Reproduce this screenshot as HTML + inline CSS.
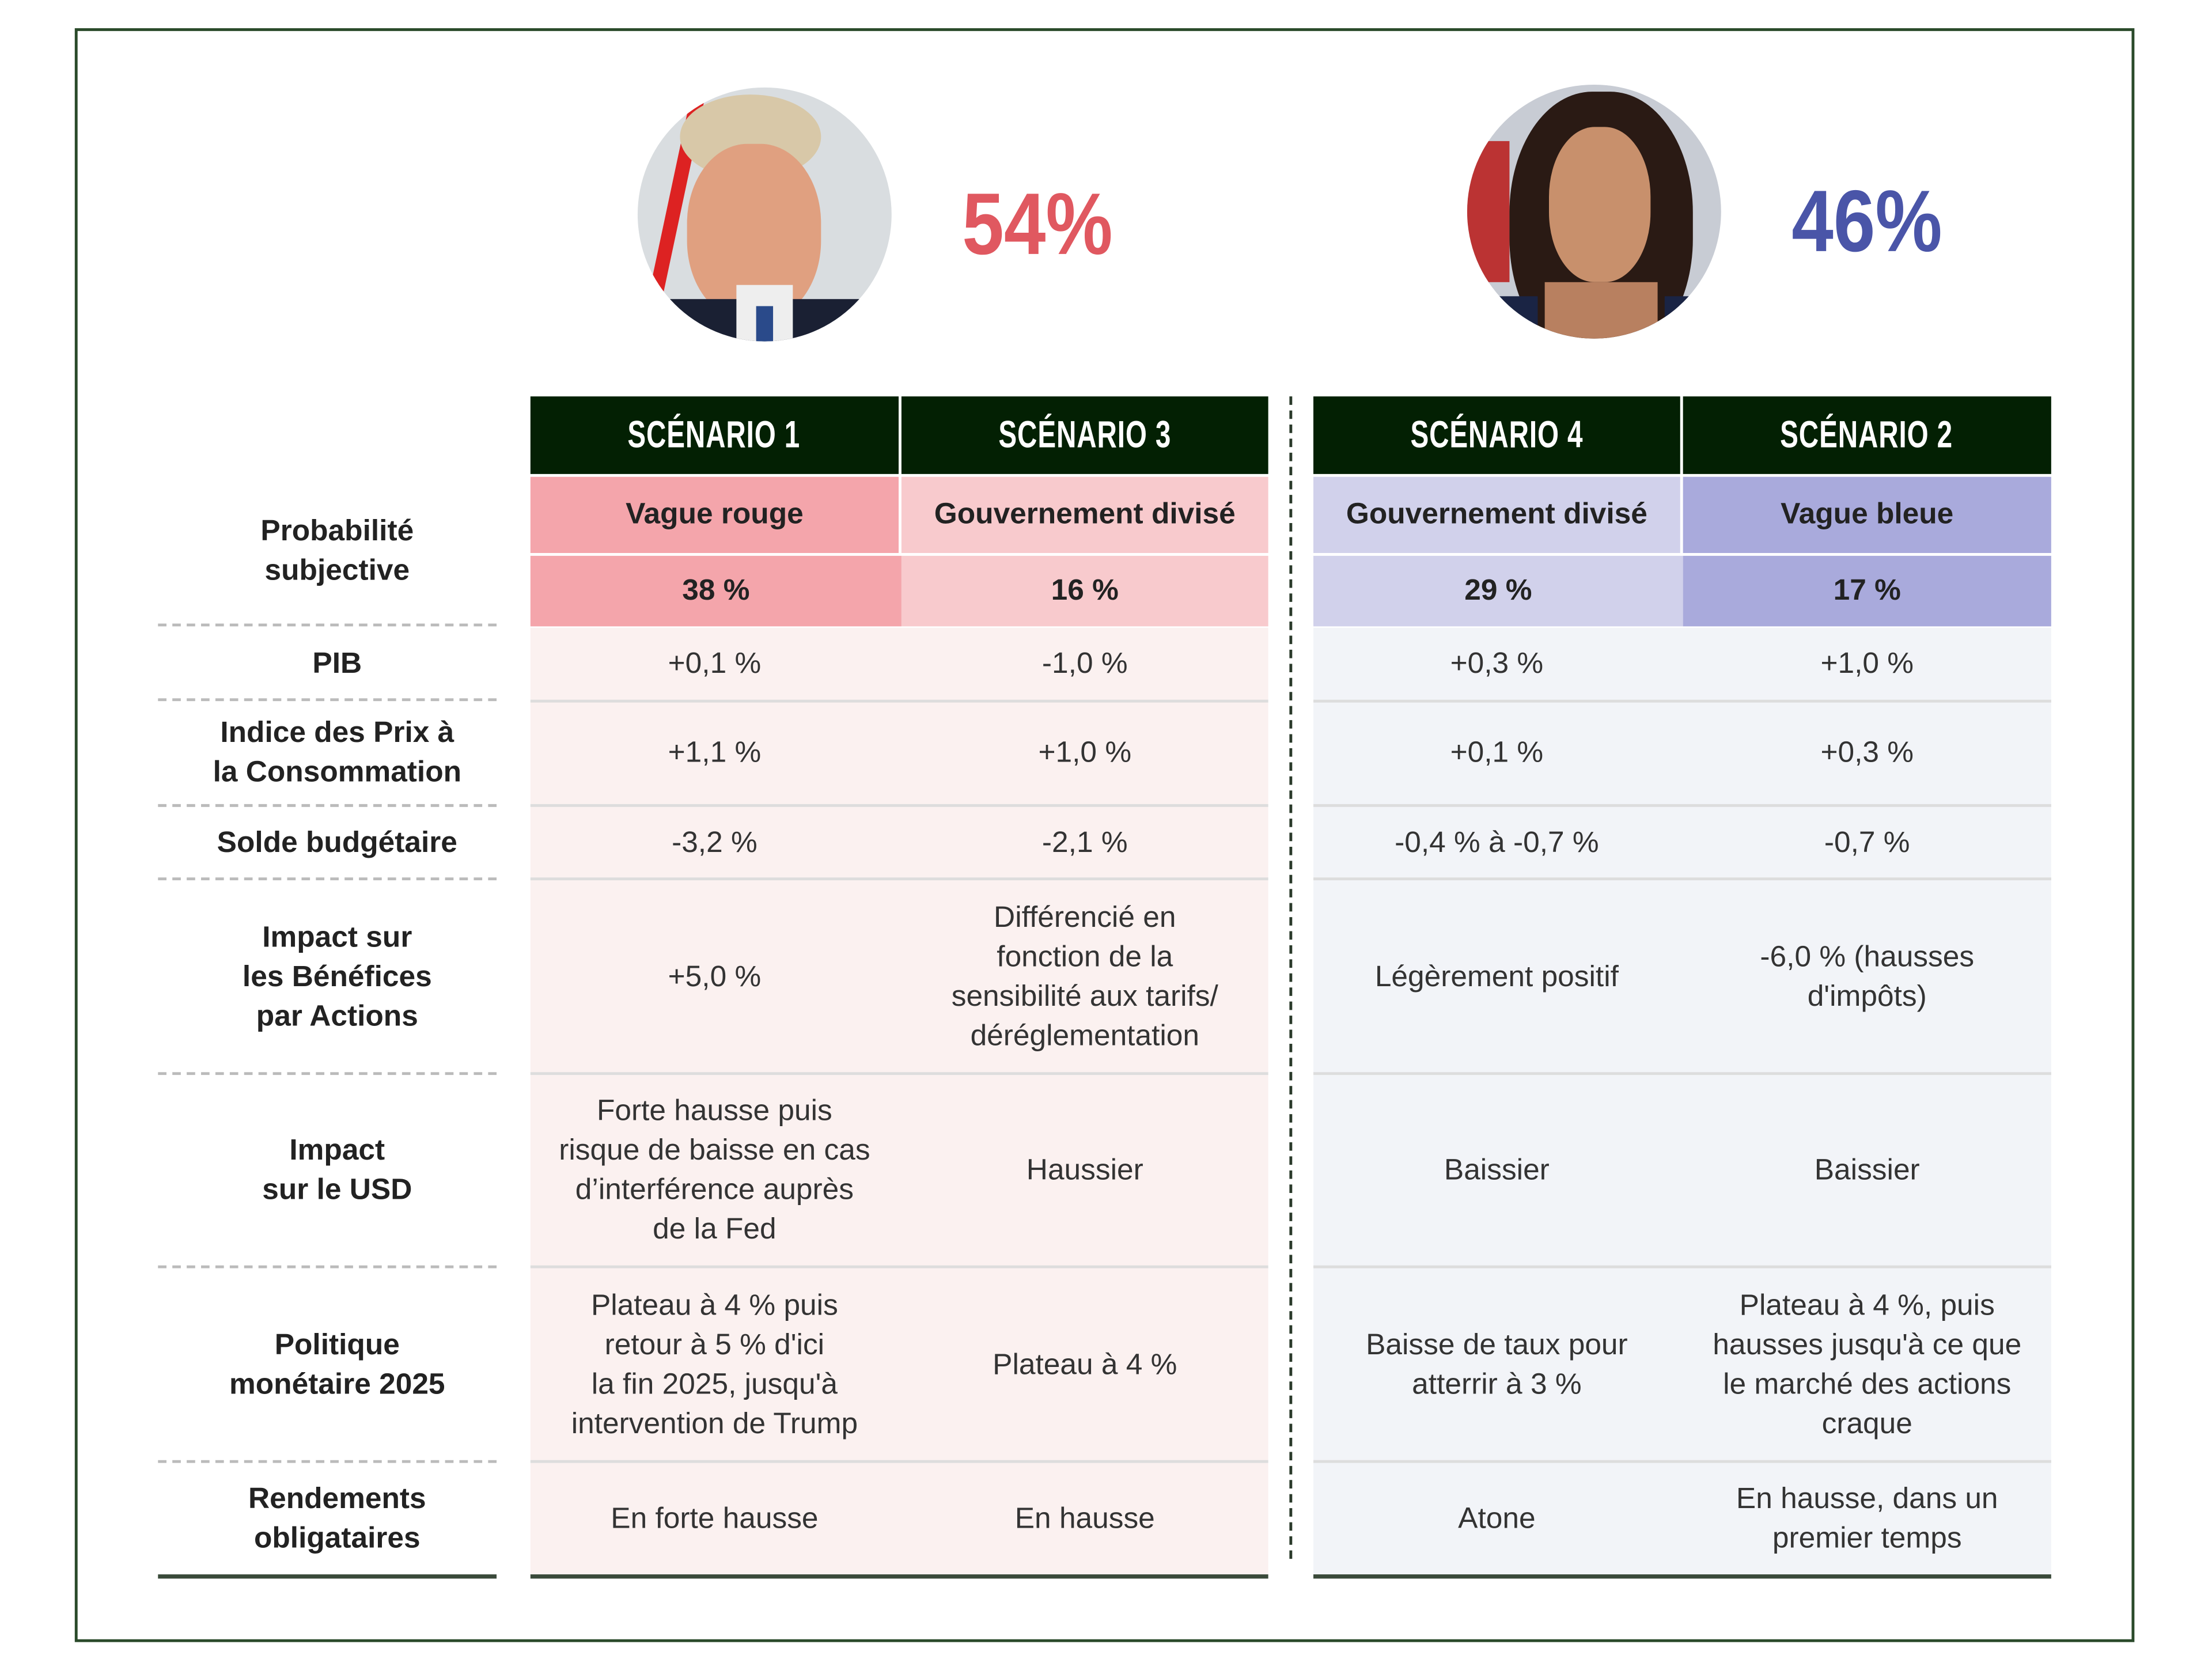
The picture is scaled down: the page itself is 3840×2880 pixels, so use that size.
<!DOCTYPE html>
<html><head><meta charset="utf-8"><style>
html,body{margin:0;padding:0;background:#fff;}
body{width:3840px;height:2879px;overflow:hidden;position:relative;}
#w{position:absolute;left:0;top:0;width:1568px;height:1176px;transform:scale(2.449);transform-origin:0 0;font-family:"Liberation Sans",sans-serif;}
.a{position:absolute;box-sizing:border-box;}
.frame{left:53px;top:20px;width:1460px;height:1144px;border:2px solid #2a4a2a;}
.hd{background:#032003;color:#fff;font-weight:bold;font-size:27px;display:flex;align-items:center;justify-content:center;}
.hd span{display:inline-block;transform:scaleX(0.72);letter-spacing:0.5px;}
.c{display:flex;align-items:center;justify-content:center;text-align:center;color:#333;font-size:21px;line-height:28px;}
.b{font-weight:bold;color:#222;}
.lab{display:flex;align-items:center;justify-content:center;text-align:center;font-weight:bold;color:#222;font-size:21px;line-height:28px;left:119px;width:240px;}
.dot{left:112px;width:240px;height:0;border-top:2px dashed #bbb;}
.sep{height:2px;background:#ddd;}
.pct{font-weight:bold;font-size:62px;}
.pct span{display:inline-block;transform:scaleX(0.86);transform-origin:0 0;}
</style></head><body><div id="w">
<div class="a frame"></div>

<div class="a" style="left:452px;top:62px;width:180px;height:180px;border-radius:50%;overflow:hidden;background:#d9dde0;">
 <div class="a" style="left:20px;top:0;width:10px;height:180px;background:#d22;transform:rotate(12deg);"></div>
 <div class="a" style="left:30px;top:5px;width:100px;height:60px;border-radius:50%;background:#d8c8a8;"></div>
 <div class="a" style="left:35px;top:40px;width:95px;height:125px;border-radius:45%;background:#e0a080;"></div>
 <div class="a" style="left:0;top:150px;width:180px;height:60px;background:#1a2033;"></div>
 <div class="a" style="left:70px;top:140px;width:40px;height:40px;background:#eee;"></div>
 <div class="a" style="left:84px;top:155px;width:12px;height:30px;background:#2a4a8a;"></div>
</div>
<div class="a pct" style="left:682px;top:124px;color:#e05860;"><span>54%</span></div>

<div class="a" style="left:1040px;top:60px;width:180px;height:180px;border-radius:50%;overflow:hidden;background:#c8ccd4;">
 <div class="a" style="left:0;top:40px;width:30px;height:100px;background:#b33;"></div>
 <div class="a" style="left:30px;top:5px;width:130px;height:190px;border-radius:45%;background:#2a1a14;"></div>
 <div class="a" style="left:58px;top:30px;width:72px;height:110px;border-radius:45%;background:#c8906c;"></div>
 <div class="a" style="left:55px;top:140px;width:80px;height:50px;background:#b88060;"></div>
 <div class="a" style="left:0;top:150px;width:50px;height:40px;background:#1a2444;"></div>
 <div class="a" style="left:140px;top:150px;width:50px;height:40px;background:#1a2444;"></div>
</div>
<div class="a pct" style="left:1270px;top:122px;color:#4a55a8;"><span>46%</span></div>

<div class="a" style="left:376px;top:445px;width:523px;height:672px;background:#fbf1f0;"></div>
<div class="a" style="left:931px;top:445px;width:523px;height:672px;background:#f2f4f8;"></div>

<div class="a hd" style="left:376px;top:281px;width:261px;height:55px;"><span>SCÉNARIO 1</span></div>
<div class="a hd" style="left:639px;top:281px;width:260px;height:55px;"><span>SCÉNARIO 3</span></div>
<div class="a hd" style="left:931px;top:281px;width:260px;height:55px;"><span>SCÉNARIO 4</span></div>
<div class="a hd" style="left:1193px;top:281px;width:261px;height:55px;"><span>SCÉNARIO 2</span></div>

<div class="a c b" style="left:376px;top:338px;width:261px;height:54px;background:#f4a5ab;">Vague rouge</div>
<div class="a c b" style="left:639px;top:338px;width:260px;height:54px;background:#f8cacd;">Gouvernement divisé</div>
<div class="a c b" style="left:931px;top:338px;width:260px;height:54px;background:#d1d1eb;">Gouvernement divisé</div>
<div class="a c b" style="left:1193px;top:338px;width:261px;height:54px;background:#a9aadc;">Vague bleue</div>

<div class="a c b" style="left:376px;top:394px;width:263px;height:50px;background:#f4a5ab;">38 %</div>
<div class="a c b" style="left:639px;top:394px;width:260px;height:50px;background:#f8cacd;">16 %</div>
<div class="a c b" style="left:931px;top:394px;width:262px;height:50px;background:#d1d1eb;">29 %</div>
<div class="a c b" style="left:1193px;top:394px;width:261px;height:50px;background:#a9aadc;">17 %</div>

<div class="a sep" style="left:376px;top:496px;width:523px;"></div><div class="a sep" style="left:931px;top:496px;width:523px;"></div>
<div class="a sep" style="left:376px;top:570px;width:523px;"></div><div class="a sep" style="left:931px;top:570px;width:523px;"></div>
<div class="a sep" style="left:376px;top:622px;width:523px;"></div><div class="a sep" style="left:931px;top:622px;width:523px;"></div>
<div class="a sep" style="left:376px;top:760px;width:523px;"></div><div class="a sep" style="left:931px;top:760px;width:523px;"></div>
<div class="a sep" style="left:376px;top:897px;width:523px;"></div><div class="a sep" style="left:931px;top:897px;width:523px;"></div>
<div class="a sep" style="left:376px;top:1035px;width:523px;"></div><div class="a sep" style="left:931px;top:1035px;width:523px;"></div>
<div class="a" style="left:376px;top:1116px;width:523px;height:3px;background:#3a4a3a;"></div>
<div class="a" style="left:931px;top:1116px;width:523px;height:3px;background:#3a4a3a;"></div>
<div class="a" style="left:112px;top:1116px;width:240px;height:3px;background:#3a4a3a;"></div>

<div class="a dot" style="top:442px;"></div>
<div class="a dot" style="top:495px;"></div>
<div class="a dot" style="top:570px;"></div>
<div class="a dot" style="top:622px;"></div>
<div class="a dot" style="top:760px;"></div>
<div class="a dot" style="top:897px;"></div>
<div class="a dot" style="top:1035px;"></div>

<div class="a" style="left:914px;top:281px;width:0;height:824px;border-left:2px dashed #2a3a2a;"></div>

<div class="a lab" style="top:338px;height:106px;">Probabilité<br>subjective</div>
<div class="a lab" style="top:445px;height:52px;">PIB</div>
<div class="a lab" style="top:497px;height:74px;">Indice des Prix à<br>la Consommation</div>
<div class="a lab" style="top:572px;height:52px;">Solde budgétaire</div>
<div class="a lab" style="top:624px;height:137px;">Impact sur<br>les Bénéfices<br>par Actions</div>
<div class="a lab" style="top:762px;height:136px;">Impact<br>sur le USD</div>
<div class="a lab" style="top:899px;height:137px;">Politique<br>monétaire 2025</div>
<div class="a lab" style="top:1037px;height:80px;">Rendements<br>obligataires</div>

<div class="a c" style="left:376px;top:445px;width:261px;height:52px;">+0,1 %</div>
<div class="a c" style="left:639px;top:445px;width:260px;height:52px;">-1,0 %</div>
<div class="a c" style="left:931px;top:445px;width:260px;height:52px;">+0,3 %</div>
<div class="a c" style="left:1193px;top:445px;width:261px;height:52px;">+1,0 %</div>

<div class="a c" style="left:376px;top:497px;width:261px;height:74px;">+1,1 %</div>
<div class="a c" style="left:639px;top:497px;width:260px;height:74px;">+1,0 %</div>
<div class="a c" style="left:931px;top:497px;width:260px;height:74px;">+0,1 %</div>
<div class="a c" style="left:1193px;top:497px;width:261px;height:74px;">+0,3 %</div>

<div class="a c" style="left:376px;top:572px;width:261px;height:52px;">-3,2 %</div>
<div class="a c" style="left:639px;top:572px;width:260px;height:52px;">-2,1 %</div>
<div class="a c" style="left:931px;top:572px;width:260px;height:52px;">-0,4 % à -0,7 %</div>
<div class="a c" style="left:1193px;top:572px;width:261px;height:52px;">-0,7 %</div>

<div class="a c" style="left:376px;top:624px;width:261px;height:137px;">+5,0 %</div>
<div class="a c" style="left:639px;top:624px;width:260px;height:137px;">Différencié en<br>fonction de la<br>sensibilité aux tarifs/<br>déréglementation</div>
<div class="a c" style="left:931px;top:624px;width:260px;height:137px;">Légèrement positif</div>
<div class="a c" style="left:1193px;top:624px;width:261px;height:137px;">-6,0 % (hausses<br>d'impôts)</div>

<div class="a c" style="left:376px;top:762px;width:261px;height:136px;">Forte hausse puis<br>risque de baisse en cas<br>d’interférence auprès<br>de la Fed</div>
<div class="a c" style="left:639px;top:762px;width:260px;height:136px;">Haussier</div>
<div class="a c" style="left:931px;top:762px;width:260px;height:136px;">Baissier</div>
<div class="a c" style="left:1193px;top:762px;width:261px;height:136px;">Baissier</div>

<div class="a c" style="left:376px;top:899px;width:261px;height:137px;">Plateau à 4 % puis<br>retour à 5 % d'ici<br>la fin 2025, jusqu'à<br>intervention de Trump</div>
<div class="a c" style="left:639px;top:899px;width:260px;height:137px;">Plateau à 4 %</div>
<div class="a c" style="left:931px;top:899px;width:260px;height:137px;">Baisse de taux pour<br>atterrir à 3 %</div>
<div class="a c" style="left:1193px;top:899px;width:261px;height:137px;">Plateau à 4 %, puis<br>hausses jusqu'à ce que<br>le marché des actions<br>craque</div>

<div class="a c" style="left:376px;top:1037px;width:261px;height:80px;">En forte hausse</div>
<div class="a c" style="left:639px;top:1037px;width:260px;height:80px;">En hausse</div>
<div class="a c" style="left:931px;top:1037px;width:260px;height:80px;">Atone</div>
<div class="a c" style="left:1193px;top:1037px;width:261px;height:80px;">En hausse, dans un<br>premier temps</div>
</div></body></html>
